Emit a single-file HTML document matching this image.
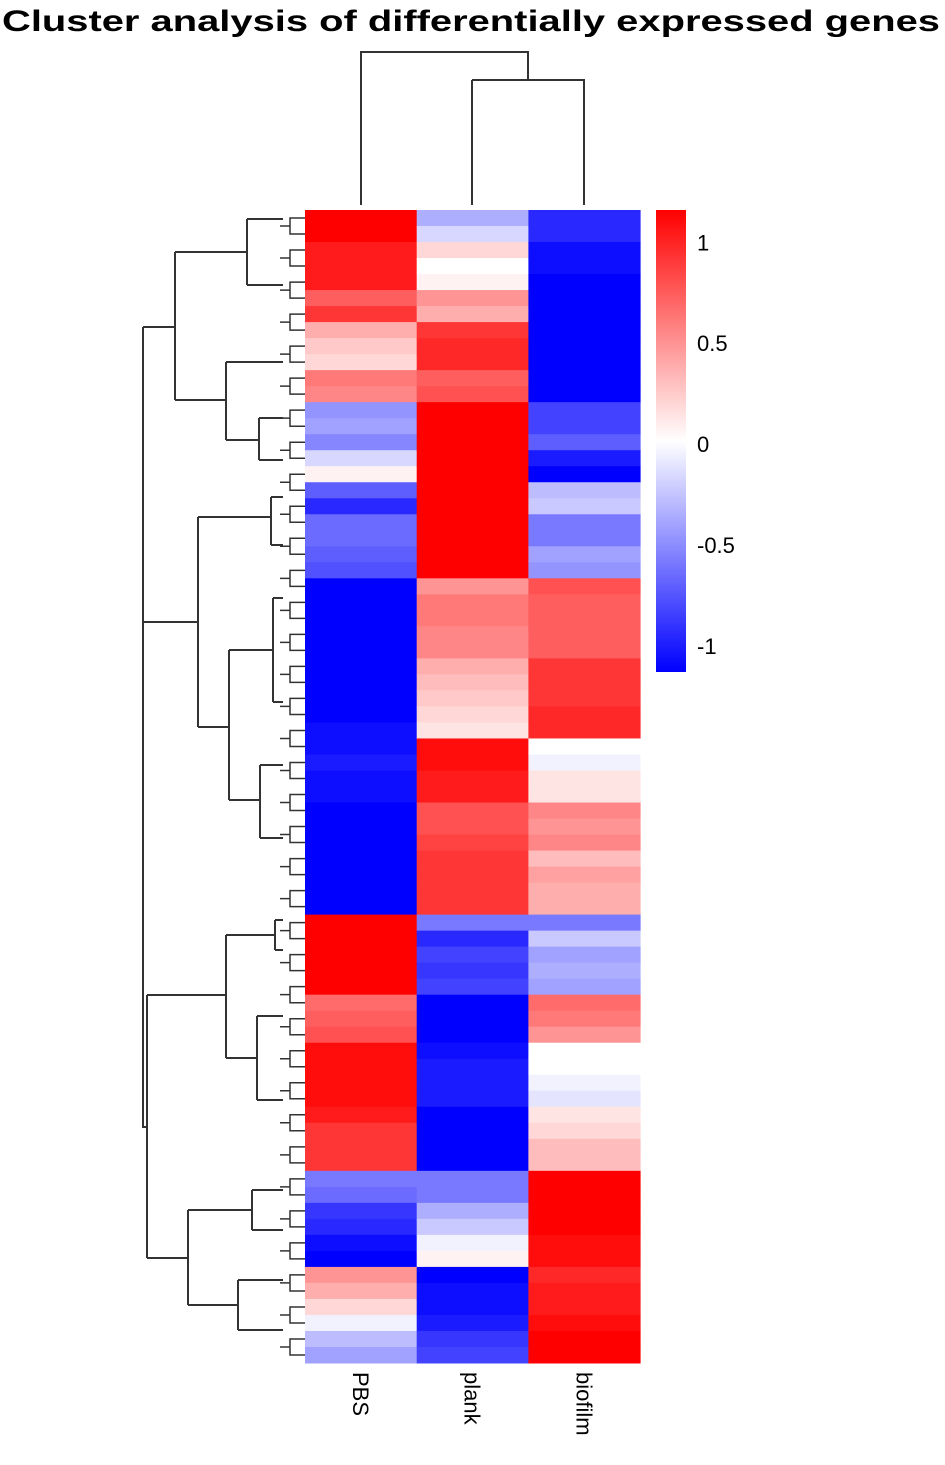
<!DOCTYPE html>
<html><head><meta charset="utf-8"><style>
html,body{margin:0;padding:0;background:#fff;}
svg{display:block;font-family:"Liberation Sans",sans-serif;}
</style></head><body>
<svg id="chart" width="945" height="1465" viewBox="0 0 945 1465" xmlns="http://www.w3.org/2000/svg">
<text x="2" y="31" font-size="30" font-weight="bold" textLength="938" lengthAdjust="spacingAndGlyphs">Cluster analysis of differentially expressed genes</text>
<g id="cells"></g>
<g id="rowdend" stroke="#333" stroke-width="2" fill="none"></g>
<g id="coldend" stroke="#333" stroke-width="2" fill="none">
<path d="M361 205V52H528V80" />
<path d="M472 80H584V205M472 80V205" />
</g>
<defs><linearGradient id="lg" x1="0" y1="0" x2="0" y2="1">
<stop offset="0" stop-color="#ff0000"/><stop offset="0.5" stop-color="#ffffff"/><stop offset="1" stop-color="#0000ff"/></linearGradient></defs>
<rect x="656" y="210" width="30" height="462" fill="url(#lg)"/>
<g id="legendticks" font-size="22" fill="#000"></g>
<g id="collabels" font-size="22" fill="#000"></g>
</svg>
<script>
const columns = ["PBS","plank","biofilm"];
const pbs = [0.95,0.95,0.85,0.85,0.85,0.6,0.75,0.3,0.2,0.15,0.5,0.45,-0.4,-0.35,-0.45,-0.15,0.05,-0.6,-0.8,-0.55,-0.55,-0.6,-0.65,-1,-1,-1,-1,-1,-1,-1,-1,-0.95,-0.9,-0.9,-0.85,-0.9,-0.9,-1,-1,-1,-0.95,-0.95,-0.95,-0.95,1,0.95,1,1,1,0.55,0.6,0.65,0.9,0.9,0.9,0.9,0.85,0.75,0.75,0.75,-0.5,-0.55,-0.75,-0.8,-0.9,-0.95,0.4,0.3,0.15,-0.05,-0.25,-0.35];
const plank = [-0.3,-0.15,0.15,0.0,0.05,0.4,0.3,0.75,0.8,0.8,0.6,0.65,1,1,1,1,0.95,0.95,0.95,1,1,1,1,0.4,0.5,0.5,0.45,0.45,0.3,0.25,0.2,0.15,0.1,0.9,0.9,0.85,0.85,0.65,0.65,0.7,0.75,0.75,0.75,0.75,-0.5,-0.8,-0.7,-0.75,-0.7,-1,-1,-0.95,-0.9,-0.85,-0.85,-0.85,-0.95,-0.95,-1,-1,-0.5,-0.5,-0.3,-0.2,-0.05,0.05,-0.95,-0.9,-0.9,-0.85,-0.75,-0.7];
const biofilm = [-0.8,-0.8,-0.9,-0.9,-0.95,-1,-1,-1,-1,-1,-1,-1,-0.7,-0.7,-0.6,-0.85,-0.95,-0.25,-0.2,-0.5,-0.5,-0.35,-0.4,0.65,0.6,0.6,0.6,0.6,0.75,0.75,0.75,0.8,0.8,0.0,-0.05,0.1,0.1,0.45,0.4,0.45,0.25,0.35,0.3,0.3,-0.5,-0.2,-0.35,-0.3,-0.35,0.55,0.5,0.4,0.0,0.0,-0.05,-0.1,0.1,0.15,0.25,0.25,1,1,0.95,0.95,0.9,0.9,0.8,0.85,0.85,0.9,1,1];
const legendTicks = [1,0.5,0,-0.5,-1];

const NS="http://www.w3.org/2000/svg";
const top0=210, bottom0=1363, left0=305, colW=111.7;
const n=pbs.length, rowH=(bottom0-top0)/n;
const vmax=0.95;
function yRow(i){return top0+i*rowH;}
function xCol(j){return left0+j*colW;}
function color(v){
  let t=Math.max(-1,Math.min(1,v/vmax));
  let r,g,b;
  if(t>=0){r=255;g=b=Math.round(255*(1-t));}else{b=255;r=g=Math.round(255*(1+t));}
  return `rgb(${r},${g},${b})`;
}
const series=[pbs,plank,biofilm];
const cells=document.getElementById('cells');
series.forEach((arr,j)=>{
  arr.forEach((v,i)=>{
    const r=document.createElementNS(NS,'rect');
    r.setAttribute('x',xCol(j));r.setAttribute('y',yRow(i));
    r.setAttribute('width',colW+0.5);r.setAttribute('height',rowH+0.5);
    r.setAttribute('fill',color(v));
    
    
    cells.appendChild(r);
  });
});
const lg=document.getElementById('legendticks');
const lTop=210,lBot=672,lMax=1.16,lMin=-1.13;
legendTicks.forEach(v=>{
  const t=document.createElementNS(NS,'text');
  t.setAttribute('x',697);
  t.setAttribute('y',lTop+(lMax-v)/(lMax-lMin)*(lBot-lTop)+8);
  t.textContent=String(v);
  
  
  lg.appendChild(t);
});
const cl=document.getElementById('collabels');
columns.forEach((c,j)=>{
  const t=document.createElementNS(NS,'text');
  const cx=xCol(j)+colW/2-8;
  t.setAttribute('transform',`translate(${cx},1372) rotate(90)`);
  t.textContent=c;
  
  
  cl.appendChild(t);
});
const rd=document.getElementById('rowdend');
const segs=["M143 327V1127H147","M147 995V1258","M143 327H175M175 252V400","M175 252H247M247 219V285","M175 400H226M226 362V440M226 362H262M226 440H259M259 418V460",
"M143 622H198M198 517V727M198 517H271M271 497V545","M198 727H229M229 650V800M229 650H273M273 598V702M229 800H260M260 765V838",
"M147 995H226M226 935V1058M226 935H275M275 920V950M226 1058H257M257 1016V1100",
"M147 1258H188M188 1210V1305M188 1210H252M252 1190V1230M188 1305H238M238 1280V1330",
"M247 219H283M247 285H283M262 362H283M259 418H283M259 460H283M271 497H283M271 545H283M273 598H283M273 702H283M260 765H283M260 838H283M275 920H283M275 950H283M257 1016H283M257 1100H283M252 1190H283M252 1230H283M238 1280H283M238 1330H283"];
segs.forEach(d=>{const p=document.createElementNS(NS,'path');p.setAttribute('d',d);


rd.appendChild(p);});
for(let i=0;i<n;i+=2){
  const y1=yRow(i)+rowH*0.5,y2=yRow(i+1)+rowH*0.5;
  const p=document.createElementNS(NS,'path');
  p.setAttribute('d',`M305 ${y1}H290V${y2}H305M290 ${(y1+y2)/2}H280`);
  p.setAttribute('stroke-width','1.5');
  
  
  rd.appendChild(p);
}
</script>
</body></html>
